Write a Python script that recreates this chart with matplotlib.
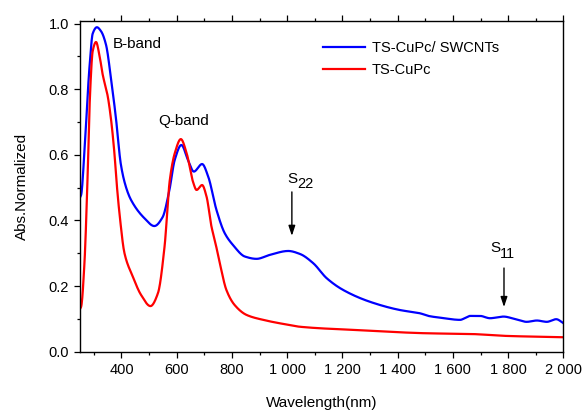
import numpy as np
import matplotlib
matplotlib.use("Agg")
import matplotlib.pyplot as plt
from matplotlib.ticker import MultipleLocator, FuncFormatter

plt.rcParams['font.family'] = ['Liberation Sans', 'DejaVu Sans']

# values
wl_hybrid = [250, 254, 266, 284, 296, 311, 326, 344, 362, 380, 398, 417, 435, 483, 519,
             549, 573, 593, 617, 641, 662, 692, 714, 744, 774, 804, 847, 889, 937, 1004,
             1046, 1094, 1143, 1203, 1300, 1408, 1481, 1511, 1560, 1626, 1645, 1662, 1698,
             1734, 1783, 1830, 1867, 1904, 1940, 1974, 2000]
abs_hybrid = [0.47, 0.478, 0.61, 0.865, 0.97, 0.989, 0.977, 0.936, 0.834, 0.712, 0.57, 0.50,
              0.462, 0.407, 0.383, 0.41, 0.49, 0.585, 0.63, 0.584, 0.549, 0.572, 0.534,
              0.432, 0.361, 0.325, 0.29, 0.283, 0.295, 0.307, 0.298, 0.27, 0.224, 0.188,
              0.152, 0.127, 0.117, 0.109, 0.103, 0.097, 0.103, 0.109, 0.109, 0.102, 0.107,
              0.098, 0.091, 0.095, 0.091, 0.099, 0.087]

wl_cupc = [250, 254, 266, 278, 286, 296, 308, 320, 332, 350, 362, 374, 384, 393, 411, 441,
           471, 505, 532, 556, 575, 593, 615, 636, 659, 672, 692, 708, 726, 738, 756, 780,
           810, 853, 913, 1010, 1046, 1251, 1511, 1662, 1795, 2000]
abs_cupc = [0.13, 0.137, 0.27, 0.55, 0.78, 0.917, 0.944, 0.905, 0.845, 0.78, 0.71, 0.61,
            0.50, 0.42, 0.30, 0.229, 0.173, 0.139, 0.178, 0.32, 0.523, 0.605, 0.648, 0.605,
            0.518, 0.493, 0.508, 0.473, 0.381, 0.34, 0.27, 0.188, 0.142, 0.112, 0.097,
            0.081, 0.076, 0.066, 0.056, 0.054, 0.048, 0.044]

labels = ['TS-CuPc/ SWCNTs', 'TS-CuPc']


def pchip(x, y, n=1500):
    # monotone cubic (Fritsch-Carlson), keeps the peaks where they were read
    x = np.asarray(x, float)
    y = np.asarray(y, float)
    h = np.diff(x)
    d = np.diff(y) / h
    m = np.zeros_like(y)
    for i in range(1, len(x) - 1):
        if d[i - 1] * d[i] > 0:
            w1 = 2 * h[i] + h[i - 1]
            w2 = h[i] + 2 * h[i - 1]
            m[i] = (w1 + w2) / (w1 / d[i - 1] + w2 / d[i])
    m[0] = d[0]
    m[-1] = d[-1]
    xs = np.linspace(x[0], x[-1], n)
    k = np.clip(np.searchsorted(x, xs) - 1, 0, len(h) - 1)
    t = (xs - x[k]) / h[k]
    h00 = 2 * t**3 - 3 * t**2 + 1
    h10 = t**3 - 2 * t**2 + t
    h01 = -2 * t**3 + 3 * t**2
    h11 = t**3 - t**2
    ys = h00 * y[k] + h10 * h[k] * m[k] + h01 * y[k + 1] + h11 * h[k] * m[k + 1]
    return xs, ys


fig = plt.figure(figsize=(5.82, 4.12), dpi=100)
ax = fig.add_axes([0.1375, 0.1464, 0.8305, 0.8026])

x1, y1 = pchip(wl_hybrid, abs_hybrid)
x2, y2 = pchip(wl_cupc, abs_cupc)
ax.plot(x1, y1, color='#0000ff', lw=1.6, label=labels[0])
ax.plot(x2, y2, color='#ff0000', lw=1.6, label=labels[1])

ax.set_xlim(250, 2000)
ax.set_ylim(0, 1.008)
ax.xaxis.set_major_locator(MultipleLocator(200))
ax.xaxis.set_minor_locator(MultipleLocator(100))
ax.yaxis.set_major_locator(MultipleLocator(0.2))
ax.yaxis.set_minor_locator(MultipleLocator(0.1))
ax.xaxis.set_major_formatter(FuncFormatter(lambda v, p: f"{int(v):,}".replace(',', ' ')))
ax.yaxis.set_major_formatter(FuncFormatter(lambda v, p: f"{v:.1f}"))

ax.tick_params(which='both', direction='out', top=True, right=False, labelsize=10.5)
ax.tick_params(which='major', length=4.5, width=0.9)
ax.tick_params(which='minor', length=2.5, width=0.9)
for s in ax.spines.values():
    s.set_linewidth(1.0)

ax.set_xlabel('Wavelength(nm)', fontsize=11, labelpad=14)
ax.set_ylabel('Abs.Normalized', fontsize=11, labelpad=14)

ax.legend(loc='upper left', bbox_to_anchor=(0.503, 0.94), frameon=False,
          borderpad=0, borderaxespad=0, handlelength=2.85, handletextpad=0.5,
          labelspacing=0.55, fontsize=10.5)

ax.text(368, 0.938, 'B-band', fontsize=11, ha='left', va='center')
ax.text(532, 0.703, 'Q-band', fontsize=11, ha='left', va='center')

# S with a near full-size subscript, as in the original
for sx, sy, sub in [(1000, 0.527, '22'), (1734, 0.316, '11')]:
    ax.text(sx, sy, 'S', fontsize=11, ha='left', va='center')
    ax.annotate(sub, xy=(sx, sy), xytext=(7.2, -4), textcoords='offset points',
                fontsize=10.5, ha='left', va='center')

arr = dict(arrowstyle='-|>,head_length=0.6,head_width=0.2', color='black', lw=1.0,
           shrinkA=0, shrinkB=0)
ax.annotate('', xy=(1017, 0.353), xytext=(1017, 0.487), arrowprops=arr)
ax.annotate('', xy=(1785, 0.136), xytext=(1785, 0.255), arrowprops=arr)

fig.savefig('out.png', dpi=100)
